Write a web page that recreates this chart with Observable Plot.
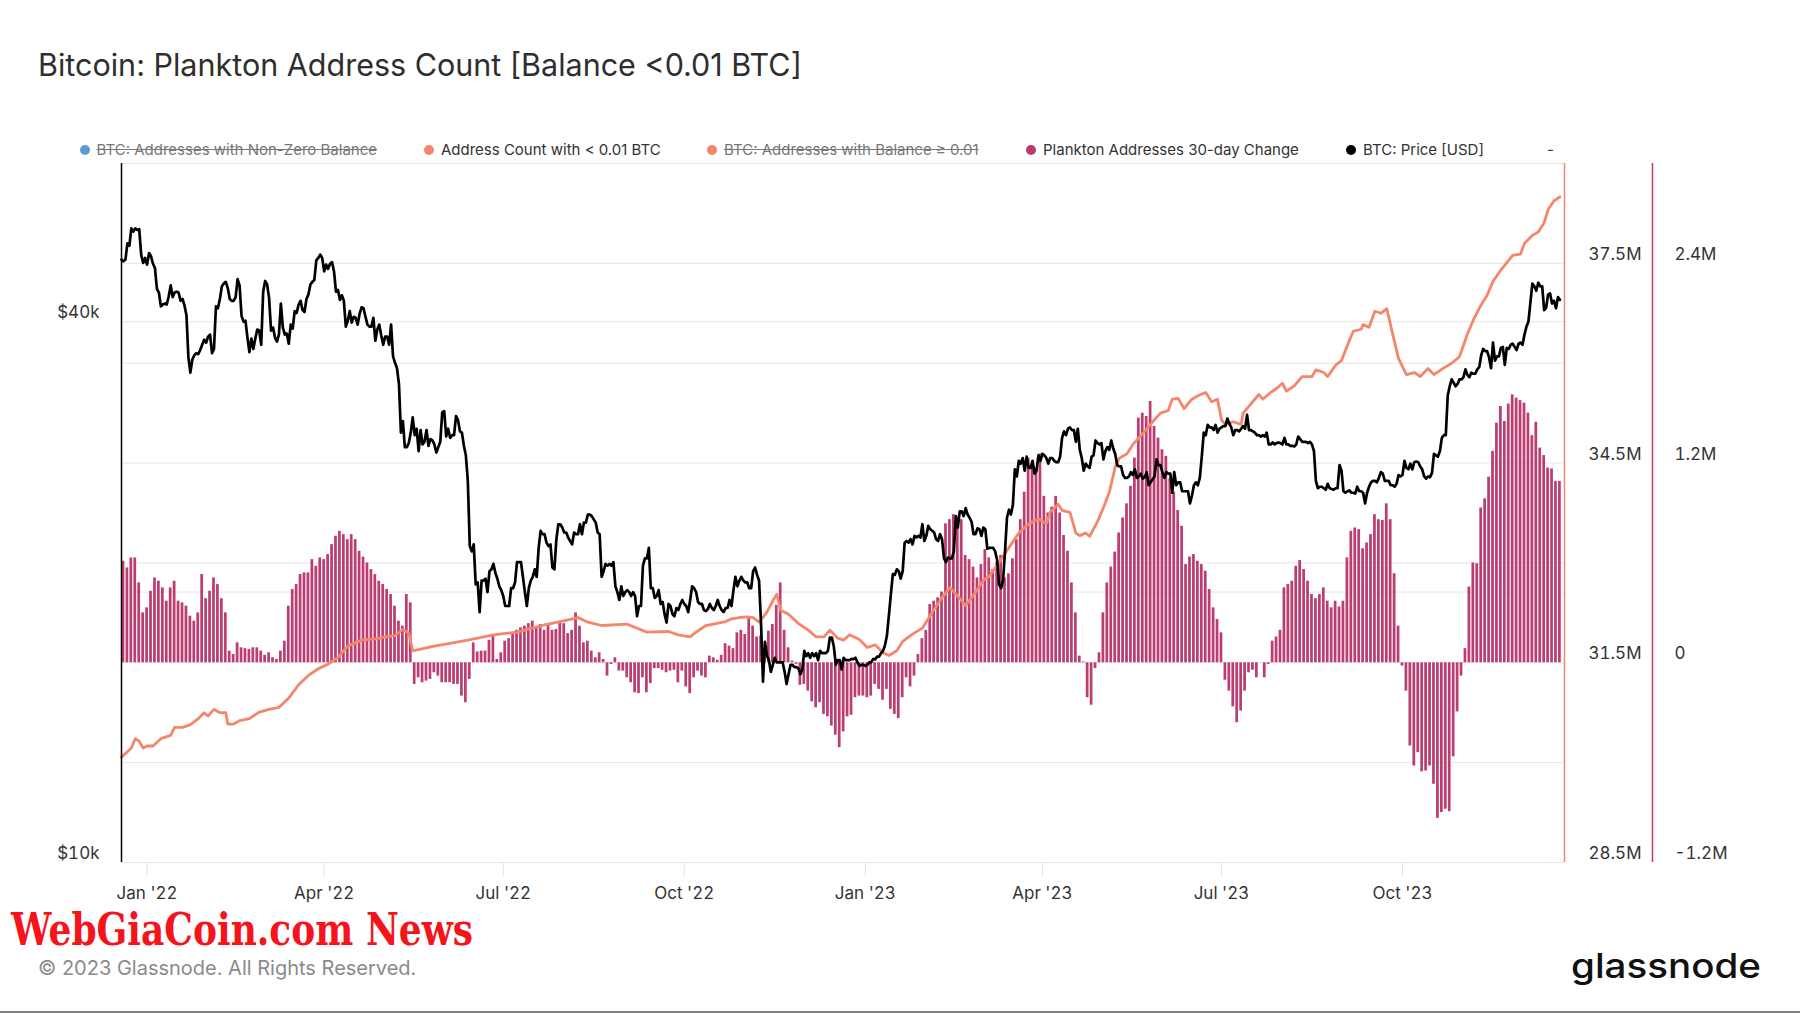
<!DOCTYPE html>
<html>
<head>
<meta charset="utf-8">
<script src="https://cdn.jsdelivr.net/npm/d3@7"></script>
<script src="https://cdn.jsdelivr.net/npm/@observablehq/plot@0.6"></script>
<style>
  html, body { margin: 0; padding: 0; background: #fff; }
  #page { position: relative; width: 1800px; height: 1013px; overflow: hidden; background: #fff; font-family: Inter, "Noto Sans", sans-serif; }
  #title { position: absolute; left: 38px; top: 47px; font-size: 30.5px; line-height: 36px; color: #2e2e2e; white-space: nowrap; }
  .lg { position: absolute; top: 140px; height: 20px; line-height: 20px; font-size: 15px; color: #333; white-space: nowrap; }
  .lg .dot { position: absolute; left: -5px; top: 5px; width: 10px; height: 10px; border-radius: 50%; }
  .lg .txt { position: absolute; left: 12px; top: 0; }
  .lg.off .txt { color: #777; text-decoration: line-through; }
  .layer { position: absolute; left: 0; top: 153px; }
  #copy { position: absolute; left: 38px; top: 956px; font-size: 20px; line-height: 24px; color: #8a8a8a; white-space: nowrap; }
  #mark { position: absolute; left: 11px; top: 913px; height: 34px; line-height: 34px; font-size: 45px; font-weight: bold;
          font-family: "DejaVu Serif", serif; color: #f5141b; white-space: nowrap; transform-origin: 0 50%; }
  #bottomline { position: absolute; left: 0; top: 1011px; width: 1800px; height: 2px; background: #808080; }
  #overlay { position: absolute; left: 0; top: 0; }
</style>
</head>
<body>
<div id="page">
  <div id="title">Bitcoin: Plankton Address Count [Balance &lt;0.01 BTC]</div>
  <div id="legend"></div>
  <div id="mark">WebGiaCoin.com News</div>
  <div id="copy">© 2023 Glassnode. All Rights Reserved.</div>
  <div id="bottomline"></div>
</div>
<script>
// ---------------- DATA ----------------
// BTC price [USD], daily at 00:00 UTC from 2021-12-19 to 2023-12-20, in $ thousands
const priceStart = "2021-12-19";
const priceK = [
  46.9,46.7,46.9,48.9,48.6,50.8,50.4,50.8,50.6,50.7,47.5,46.5,47.1,46.3,
  47.7,47.3,46.4,45.9,43.5,43.1,41.6,41.8,41.9,41.8,42.7,43.9,42.6,43.1,43.2,43.1,42.2,42.4,41.7,40.7,36.5,35.1,36.3,36.7,36.9,36.8,37.2,37.7,38.2,37.9,38.5,
  38.7,36.9,37.3,41.6,41.4,42.4,43.8,44.1,44.3,43.6,42.4,42.2,42.2,42.6,44.6,43.9,40.6,40.0,40.1,38.4,37.0,38.3,37.3,38.3,39.2,39.1,37.7,43.2,
  44.4,44.0,42.5,39.1,39.4,38.4,38.0,38.7,41.9,39.4,38.7,38.8,37.8,39.7,39.3,41.1,40.9,41.8,42.2,41.2,41.0,42.4,42.9,44.0,44.3,44.5,46.8,47.1,47.5,47.1,45.5,
  46.3,45.8,46.4,46.6,45.5,43.2,43.4,42.3,42.8,42.2,39.5,40.1,41.1,39.9,40.5,40.4,39.7,40.8,41.5,41.4,40.5,39.7,39.5,39.5,40.4,38.1,39.2,39.7,38.6,37.7,
  38.5,38.5,37.7,39.7,36.6,36.0,35.5,34.1,30.1,31.0,29.0,29.0,29.3,30.1,31.3,29.9,30.4,28.7,30.3,29.2,29.4,30.3,29.1,29.6,29.5,29.2,28.6,29.0,29.4,31.7,31.8,
  29.8,30.4,29.7,29.9,29.9,31.4,31.1,30.2,30.1,29.1,28.4,26.6,22.5,22.2,22.6,20.4,20.5,19.0,20.6,20.6,20.7,20.0,21.1,21.2,21.5,21.0,20.7,20.3,20.1,19.8,
  19.3,19.3,19.3,20.2,20.2,20.5,21.6,21.6,21.6,20.8,20.0,19.3,20.2,20.6,20.8,21.2,20.8,22.4,23.4,23.2,23.2,22.7,22.5,22.6,21.3,21.2,22.9,23.8,23.8,23.6,23.3,
  23.3,23.0,22.8,22.6,23.3,23.2,23.2,23.8,23.2,23.9,23.9,24.4,24.4,24.3,24.1,23.9,23.3,23.2,20.8,21.1,21.5,21.4,21.5,21.4,21.6,20.3,20.0,19.6,20.3,19.8,20.0,
  20.1,20.0,19.8,20.0,19.8,18.8,19.3,19.3,21.4,21.8,21.8,22.4,20.2,20.2,19.7,19.8,20.1,19.4,19.5,18.9,18.5,19.4,19.3,18.9,18.8,19.2,19.1,19.4,19.6,19.4,
  19.3,19.0,19.6,20.3,20.2,20.0,19.5,19.4,19.4,19.1,19.05,19.15,19.4,19.2,19.1,19.3,19.6,19.3,19.1,19.0,19.2,19.2,19.6,19.3,20.1,20.8,20.3,20.6,20.8,20.6,20.5,
  20.5,20.2,20.2,21.1,21.3,20.9,20.6,18.5,15.9,17.6,17.0,16.8,16.3,16.6,16.9,16.7,16.7,16.7,16.7,16.3,15.8,16.2,16.6,16.6,16.5,16.5,16.45,16.2,16.4,17.2,
  16.97,17.1,16.9,17.1,16.97,17.1,16.8,17.2,17.1,17.1,17.1,17.2,17.8,17.8,17.4,16.6,16.8,16.8,16.4,16.9,16.8,16.8,16.8,16.85,16.84,16.9,16.7,16.55,16.6,16.6,16.55,
  16.6,16.7,16.7,16.85,16.83,16.95,16.95,17.1,17.2,17.45,17.9,18.85,19.9,20.95,20.9,21.2,21.1,20.7,21.1,22.7,22.8,22.7,22.9,22.6,23.1,23.0,23.1,23.0,23.8,22.8,23.1,
  23.7,23.5,23.4,23.3,22.9,22.8,23.2,22.9,21.8,21.6,21.85,21.8,21.8,22.2,24.3,23.6,24.6,24.6,24.3,24.8,24.4,24.2,23.95,23.2,23.2,23.55,23.5,23.1,
  23.6,23.5,22.35,22.4,22.4,22.4,22.2,21.7,20.4,20.2,20.6,22.2,24.2,24.7,24.4,25.0,27.4,26.9,28.0,27.8,28.2,27.3,28.3,27.5,27.5,28.0,27.1,27.3,28.4,28.0,28.5,
  28.4,28.2,27.8,28.2,28.2,28.0,27.9,27.9,28.3,29.7,30.2,29.9,30.4,30.5,30.3,30.3,29.4,30.4,28.8,28.2,27.3,27.8,27.6,27.5,28.3,28.4,29.5,29.3,29.2,29.3,
  28.1,28.7,29.0,28.8,29.5,28.9,28.5,27.7,27.6,27.6,27.0,26.8,26.8,26.9,27.2,27.0,27.4,26.8,26.9,27.1,26.75,26.85,27.2,26.3,26.5,26.7,26.9,28.1,27.7,27.7,27.2,
  26.8,27.2,27.1,27.1,25.8,27.2,26.3,26.5,26.5,25.9,25.9,25.9,25.9,25.1,25.6,26.3,26.5,26.3,26.8,28.3,30.1,29.9,30.7,30.5,30.5,30.3,30.7,30.1,30.4,30.5,
  30.6,30.6,31.2,30.8,30.5,29.9,30.3,30.3,30.2,30.4,30.6,30.4,31.5,30.3,30.3,30.2,30.1,29.9,29.9,29.8,29.9,29.8,30.1,29.2,29.2,29.35,29.2,29.3,29.35,29.3,29.2,
  29.7,29.2,29.2,29.1,29.1,29.05,29.2,29.8,29.6,29.4,29.4,29.4,29.3,29.4,29.2,28.7,26.6,26.1,26.2,26.2,26.1,26.0,26.4,26.1,26.05,26.0,26.1,26.1,27.7,27.3,25.9,
  25.8,25.9,25.95,25.8,25.8,25.75,26.2,25.9,25.9,25.8,25.1,25.8,26.2,26.5,26.6,26.6,26.5,26.8,27.2,27.1,26.6,26.6,26.6,26.3,26.3,26.2,26.4,27.0,26.9,27.0,
  28.0,27.5,27.4,27.8,27.4,27.9,27.95,27.9,27.6,27.4,26.9,26.75,26.9,26.85,27.15,28.5,28.4,28.3,28.7,29.7,29.9,29.9,33.1,33.9,34.5,34.2,33.9,34.1,34.5,34.5,34.7,
  35.4,34.9,34.7,35.1,35.0,35.0,35.4,35.6,36.7,37.3,37.1,37.1,36.5,35.5,37.9,36.2,36.6,36.6,37.4,37.5,35.8,37.4,37.3,37.7,37.8,37.5,37.2,37.8,37.9,37.7,
  38.7,39.5,40.0,42.0,44.1,43.8,43.3,44.2,43.8,43.8,41.2,41.45,42.9,43.0,41.9,42.2,41.4,42.6,42.3
];

// Address Count with < 0.01 BTC (millions), read at these dates
const countDates = [
  "2021-12-19","2021-12-24","2021-12-26","2021-12-28","2021-12-30",
  "2022-01-01","2022-01-04","2022-01-08","2022-01-13","2022-01-15","2022-01-19","2022-01-23","2022-01-27","2022-01-30",
  "2022-02-01","2022-02-04","2022-02-07","2022-02-10","2022-02-11","2022-02-14","2022-02-17","2022-02-22","2022-02-27",
  "2022-03-04","2022-03-09","2022-03-14","2022-03-19","2022-03-24","2022-03-29",
  "2022-04-03","2022-04-08","2022-04-13","2022-04-20","2022-04-27",
  "2022-05-02","2022-05-07","2022-05-11","2022-05-14","2022-05-16","2022-05-27",
  "2022-06-13","2022-06-26",
  "2022-07-08","2022-07-22","2022-07-30",
  "2022-08-08","2022-08-13","2022-08-20",
  "2022-09-02","2022-09-12","2022-09-23","2022-09-28",
  "2022-10-04","2022-10-07","2022-10-12","2022-10-17","2022-10-22","2022-10-25","2022-10-29",
  "2022-11-02","2022-11-05","2022-11-08","2022-11-12","2022-11-15","2022-11-17","2022-11-19","2022-11-23","2022-11-28",
  "2022-12-03","2022-12-07","2022-12-11","2022-12-14","2022-12-18","2022-12-21","2022-12-24","2022-12-29",
  "2023-01-02","2023-01-06","2023-01-10","2023-01-13","2023-01-17","2023-01-20","2023-01-25","2023-01-30",
  "2023-02-04","2023-02-09","2023-02-13","2023-02-17","2023-02-21","2023-02-24","2023-02-27",
  "2023-03-02","2023-03-05","2023-03-10","2023-03-15","2023-03-20","2023-03-25","2023-03-30",
  "2023-04-03","2023-04-05","2023-04-09","2023-04-11","2023-04-15","2023-04-18","2023-04-20","2023-04-23","2023-04-25","2023-04-29",
  "2023-05-02","2023-05-05","2023-05-08","2023-05-10","2023-05-14","2023-05-17","2023-05-21","2023-05-24","2023-05-27","2023-05-31",
  "2023-06-04","2023-06-06","2023-06-09","2023-06-12","2023-06-16","2023-06-19","2023-06-23","2023-06-26","2023-06-29",
  "2023-07-01","2023-07-03","2023-07-07","2023-07-11","2023-07-12","2023-07-16","2023-07-20","2023-07-22","2023-07-26","2023-07-29",
  "2023-08-01","2023-08-03","2023-08-07","2023-08-11","2023-08-16","2023-08-18","2023-08-22","2023-08-24","2023-08-28","2023-08-31",
  "2023-09-04","2023-09-06","2023-09-10","2023-09-11","2023-09-14","2023-09-17","2023-09-20","2023-09-23","2023-09-26","2023-09-29",
  "2023-10-03","2023-10-07","2023-10-10","2023-10-14","2023-10-17","2023-10-22","2023-10-26","2023-10-30",
  "2023-11-03","2023-11-06","2023-11-10","2023-11-13","2023-11-16","2023-11-20","2023-11-23","2023-11-26","2023-11-30",
  "2023-12-02","2023-12-06","2023-12-09","2023-12-12","2023-12-14","2023-12-17","2023-12-20"
];
const countM = [
  30.08,30.22,30.36,30.32,30.22,
  30.25,30.25,30.36,30.41,30.53,30.53,30.57,30.66,30.75,
  30.70,30.80,30.75,30.75,30.58,30.58,30.63,30.66,30.76,
  30.80,30.83,30.97,31.17,31.31,31.41,
  31.48,31.58,31.75,31.84,31.86,
  31.89,31.91,32.00,31.95,31.68,31.75,
  31.84,31.92,
  31.96,32.07,32.12,
  32.18,32.11,32.06,
  32.08,31.96,31.97,31.92,
  31.89,31.96,32.06,32.09,32.12,32.16,32.18,
  32.19,32.18,32.11,32.26,32.43,32.53,32.29,32.23,32.09,
  31.99,31.89,31.89,31.99,31.87,31.84,31.92,31.85,
  31.73,31.77,31.65,31.61,31.68,31.82,31.93,32.02,
  32.26,32.48,32.63,32.50,32.36,32.48,32.60,
  32.74,32.80,33.01,33.23,33.45,33.59,33.66,
  33.59,33.76,33.88,33.79,33.76,33.45,33.41,33.45,33.40,33.62,
  33.83,34.06,34.44,34.57,34.64,34.78,34.91,35.01,35.12,35.25,
  35.29,35.46,35.47,35.32,35.46,35.51,35.56,35.42,35.46,
  35.15,35.08,35.12,35.08,35.25,35.39,35.53,35.46,35.56,35.62,
  35.70,35.58,35.66,35.80,35.80,35.90,35.86,35.80,35.97,36.04,
  36.34,36.48,36.51,36.58,36.54,36.78,36.75,36.82,36.44,36.07,
  35.83,35.86,35.80,35.92,35.83,35.93,36.00,36.10,
  36.44,36.65,36.88,37.02,37.23,37.40,37.51,37.62,37.64,
  37.80,37.92,37.97,38.11,38.31,38.44,38.50
];

// Plankton Addresses 30-day Change (millions), one bar every 2 days from 2021-12-20
const changeStart = "2021-12-20";
const changeM = [
  0.61,0.57,0.63,0.63,0.48,0.30,0.33,0.43,0.51,0.49,
  0.45,0.37,0.45,0.49,0.37,0.36,0.34,0.28,0.25,0.30,
  0.53,0.385,0.43,0.51,0.47,0.385,0.30,0.07,0.05,0.12,
  0.09,0.085,0.08,0.09,0.09,0.07,0.045,0.06,0.03,0.02,
  0.07,0.13,0.34,0.44,0.47,0.53,0.54,0.54,0.62,0.58,
  0.63,0.62,0.65,0.71,0.76,0.79,0.77,0.74,0.77,0.74,
  0.67,0.635,0.60,0.56,0.53,0.49,0.47,0.44,0.41,0.34,
  0.25,0.22,0.41,0.36,-0.13,-0.09,-0.12,-0.11,-0.10,-0.06,
  -0.08,-0.12,-0.12,-0.12,-0.13,-0.13,-0.20,-0.24,-0.10,0.12,
  0.065,0.07,0.07,0.135,0.16,0.02,0.06,0.13,0.145,0.18,
  0.195,0.21,0.22,0.235,0.25,0.215,0.23,0.195,0.235,0.195,
  0.20,0.25,0.235,0.175,0.195,0.30,0.22,0.12,0.13,0.07,
  0.03,0.06,0.02,-0.08,-0.01,0.03,-0.05,-0.05,-0.09,-0.12,
  -0.18,-0.185,-0.09,-0.18,-0.125,-0.035,-0.035,-0.045,-0.06,-0.05,
  -0.045,-0.12,-0.05,-0.145,-0.185,-0.09,-0.05,-0.08,-0.09,0.04,
  0.03,0.015,0.045,0.115,0.10,0.085,0.18,0.195,0.17,0.265,
  0.22,0.155,0.16,0.06,0.19,0.23,0.345,0.48,0.195,0.09,
  0.01,-0.01,-0.135,-0.13,-0.17,-0.235,-0.27,-0.24,-0.31,-0.325,
  -0.38,-0.435,-0.51,-0.415,-0.325,-0.315,-0.21,-0.20,-0.20,-0.21,
  -0.20,-0.13,-0.16,-0.225,-0.16,-0.28,-0.31,-0.335,-0.21,-0.09,
  -0.145,-0.08,0.05,0.145,0.195,0.35,0.37,0.39,0.425,0.835,
  0.86,0.89,0.875,0.86,0.645,0.62,0.575,0.51,0.59,0.68,
  0.63,0.56,0.60,0.645,0.51,0.535,0.625,0.74,0.86,1.025,
  1.23,1.175,1.17,1.255,1.0,0.90,0.935,1.0,0.90,0.765,
  0.67,0.48,0.30,0.04,0.005,-0.21,-0.255,-0.035,0.06,0.30,
  0.48,0.575,0.665,0.78,0.87,0.955,1.06,1.23,1.47,1.50,
  1.48,1.57,1.42,1.35,1.28,1.24,1.105,1.025,0.915,0.82,
  0.59,0.635,0.65,0.61,0.59,0.55,0.44,0.33,0.26,0.18,
  -0.105,-0.17,-0.265,-0.36,-0.29,-0.17,-0.06,-0.045,-0.09,0.0,
  -0.09,-0.01,0.13,0.155,0.195,0.45,0.47,0.49,0.58,0.615,
  0.56,0.49,0.41,0.385,0.41,0.45,0.37,0.33,0.37,0.335,
  0.37,0.63,0.79,0.81,0.80,0.685,0.72,0.77,0.89,0.86,
  0.855,0.955,0.86,0.535,0.22,-0.02,-0.17,-0.50,-0.62,-0.54,
  -0.655,-0.65,-0.62,-0.73,-0.935,-0.90,-0.88,-0.895,-0.565,-0.295,
  -0.08,0.085,0.455,0.60,0.595,0.93,0.985,1.115,1.27,1.44,
  1.54,1.45,1.555,1.61,1.59,1.575,1.56,1.50,1.365,1.445,
  1.29,1.245,1.17,1.165,1.09,1.09
];

// Axis ticks
const xTickDates = ["2022-01-01","2022-04-01","2022-07-01","2022-10-01","2023-01-01","2023-04-01","2023-07-01","2023-10-01"];
const priceTicks = [10000, 40000];
const priceGrid = [20000, 40000];
const countTicks = [28.5e6, 31.5e6, 34.5e6, 37.5e6];
const countGrid = [28.5e6, 30e6, 31.5e6, 33e6, 34.5e6, 36e6, 37.5e6, 39e6];
const changeTicks = [-1.2e6, 0, 1.2e6, 2.4e6];

const legendItems = [
  {label: "BTC: Addresses with Non-Zero Balance", color: "#5b9bd5", off: true, x: 84.5},
  {label: "Address Count with < 0.01 BTC", color: "#f4866c", off: false, x: 429},
  {label: "BTC: Addresses with Balance ≥ 0.01", color: "#f4866c", off: true, x: 712},
  {label: "Plankton Addresses 30-day Change", color: "#c0396e", off: false, x: 1031},
  {label: "BTC: Price [USD]", color: "#000000", off: false, x: 1351}
];

// ---------------- BUILD ----------------
if (priceK.length !== 732) throw new Error("priceK length " + priceK.length);
if (countDates.length !== countM.length) throw new Error("count lengths " + countDates.length + " " + countM.length);
if (changeM.length !== 366) throw new Error("changeM length " + changeM.length);

const parse = d3.utcParse("%Y-%m-%d");
const p0 = parse(priceStart);
const priceData = priceK.map((v, i) => ({date: d3.utcDay.offset(p0, i), p: v * 1000}));
const countData = countDates.map((d, i) => ({date: parse(d), v: countM[i] * 1e6}));
const c0 = parse(changeStart);
const changeData = changeM.map((v, i) => ({date: d3.utcDay.offset(c0, 2 * i), v: v * 1e6}));
const xTicks = xTickDates.map(parse);

const ORANGE = "#f4866c", PINK = "#bc3d71", PINKAXIS = "#c0396e";
const xDomain = [new Date(Date.UTC(2021, 11, 19)), new Date(Date.UTC(2023, 11, 22, 8))];
const page = document.getElementById("page");
const fmtM = d => d === 0 ? "0" : `${+(d / 1e6).toFixed(1)}M`;

function layer(opts) {
  const svg = Plot.plot({
    width: 1800, height: 770,
    marginLeft: 121, marginRight: 236, marginTop: 10, marginBottom: 61,
    style: {fontFamily: "Inter, sans-serif", fontSize: "17px", color: "#333", background: "transparent", overflow: "visible"},
    x: {type: "utc", domain: xDomain, axis: null},
    ...opts
  });
  svg.classList.add("layer");
  page.appendChild(svg);
  return svg;
}

// 1: address-count grid, its labels, x axis
layer({
  y: {domain: [28.5e6, 39e6], axis: null},
  marks: [
    Plot.gridY(countGrid, {stroke: "#e6e6e6", strokeOpacity: 1, strokeWidth: 1}),
    Plot.axisY(countTicks, {anchor: "right", tickSize: 0, tickPadding: 24, dy: -9, tickFormat: fmtM, fill: "#333", label: null}),
    Plot.axisX(xTicks, {anchor: "bottom", tickSize: 14, tickPadding: 10, stroke: "#e3e3e3", fill: "#333", tickFormat: d3.utcFormat("%b '%y"), label: null})
  ]
});

// 2: price grid and labels (log)
layer({
  y: {type: "log", domain: [1e4, 6e4], axis: null},
  marks: [
    Plot.gridY(priceGrid, {stroke: "#e6e6e6", strokeOpacity: 1, strokeWidth: 1}),
    Plot.axisY(priceTicks, {anchor: "left", tickSize: 0, tickPadding: 22, dy: -9, tickFormat: d => `$${d / 1000}k`, fill: "#333", label: null})
  ]
});

// 3: 30-day change bars
layer({
  y: {domain: [-1.2e6, 3.0e6], axis: null},
  marks: [
    Plot.rect(changeData, {
      x1: d => d3.utcDay.offset(d.date, -1), x2: d => d3.utcDay.offset(d.date, 1),
      y1: 0, y2: "v", fill: PINK, insetLeft: 0.6, insetRight: 0.6
    }),
    Plot.axisY(changeTicks, {anchor: "right", tickSize: 0, tickPadding: 110, dy: -9, tickFormat: fmtM, fill: "#333", label: null})
  ]
});

// 4: address count line
layer({
  y: {domain: [28.5e6, 39e6], axis: null},
  marks: [
    Plot.line(countData, {x: "date", y: "v", stroke: ORANGE, strokeWidth: 2.8, strokeLinejoin: "round"})
  ]
});

// 5: price line + axis lines
layer({
  y: {type: "log", domain: [1e4, 6e4], axis: null},
  marks: [
    Plot.line(priceData, {x: "date", y: "p", stroke: "#000", strokeWidth: 2.7, strokeLinejoin: "round"}),
    Plot.ruleX([xDomain[0]], {stroke: "#000", strokeWidth: 1.5}),
    Plot.ruleX([xDomain[1]], {stroke: ORANGE, strokeWidth: 1.5}),
    Plot.ruleX([xDomain[1]], {stroke: PINKAXIS, strokeWidth: 1.5, dx: 88})
  ]
});

// legend
const lg = d3.select("#legend");
legendItems.forEach(it => {
  const el = lg.append("div").attr("class", "lg" + (it.off ? " off" : "")).style("left", it.x + "px");
  el.append("span").attr("class", "dot").style("background", it.color);
  el.append("span").attr("class", "txt").text(it.label);
});
lg.append("div").attr("class", "lg").style("left", "1547px").text("-");

// watermark: squeeze horizontally to the reference width
const mark = document.getElementById("mark");
const mw = mark.getBoundingClientRect().width;
mark.style.transform = `scaleX(${462 / mw})`;

// logo
const ov = d3.select(page).append("svg").attr("id", "overlay").attr("width", 1800).attr("height", 1013);
ov.append("text").attr("x", 1571).attr("y", 978)
  .attr("font-family", "Inter").attr("font-weight", 500).attr("font-size", 34)
  .attr("fill", "#111").attr("textLength", 190).attr("lengthAdjust", "spacingAndGlyphs")
  .text("glassnode");
</script>
</body>
</html>
